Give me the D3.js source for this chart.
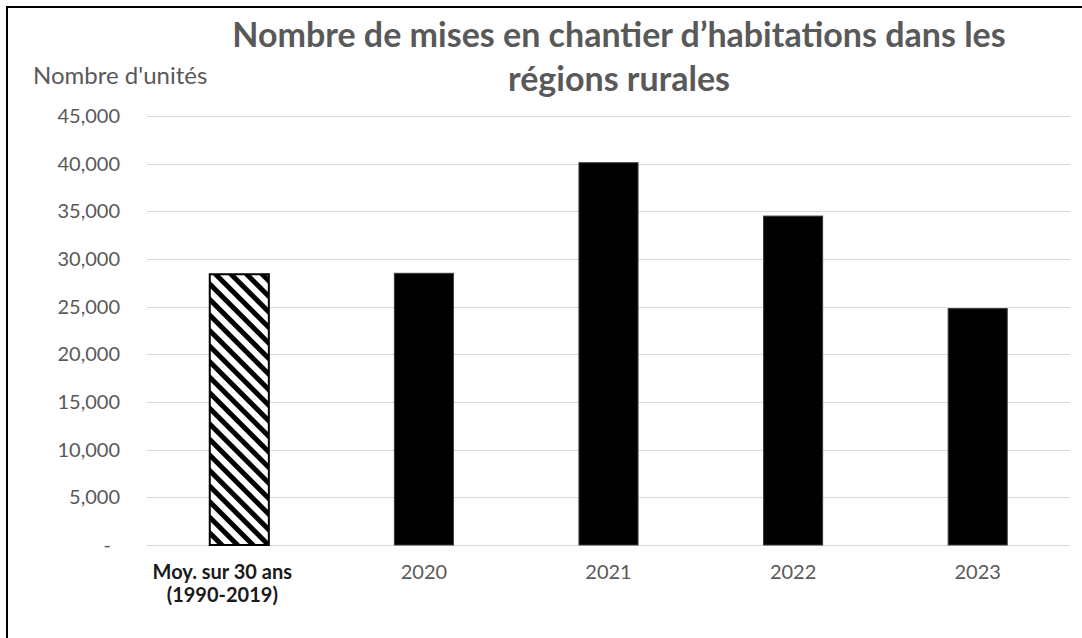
<!DOCTYPE html>
<html>
<head>
<meta charset="utf-8">
<script src="https://cdn.jsdelivr.net/npm/d3@7"></script>
<style>
  html, body { margin: 0; padding: 0; background: #fff; }
  svg { display: block; }
  text { font-family: Lato, "Open Sans", sans-serif; }
</style>
</head>
<body>
<svg id="chart" width="1082" height="638"></svg>
<script>
// Housing starts in rural regions
const categories = ["avg", "2020", "2021", "2022", "2023"];
const categoryLabels = [["Moy. sur 30 ans", "(1990-2019)"], ["2020"], ["2021"], ["2022"], ["2023"]];
const values = [28400, 28500, 40100, 34500, 24800];
const yTicks = [0, 5000, 10000, 15000, 20000, 25000, 30000, 35000, 40000, 45000];
const titleLines = ["Nombre de mises en chantier d\u2019habitations dans les", "régions rurales"];
const yAxisTitle = "Nombre d'unités";

const svg = d3.select("#chart");
const W = 1082, H = 638;
const plot = { left: 147, right: 1070, top: 116, bottom: 545 };

svg.append("rect").attr("width", W).attr("height", H).attr("fill", "#fff");

// diagonal hatch for the long-term average bar
const defs = svg.append("defs");
const pat = defs.append("pattern")
  .attr("id", "hatch")
  .attr("patternUnits", "userSpaceOnUse")
  .attr("width", 11)
  .attr("height", 11)
  .attr("patternTransform", "rotate(-45)");
pat.append("rect").attr("width", 11).attr("height", 11).attr("fill", "#fff");
pat.append("rect").attr("x", 0).attr("y", 0).attr("width", 5).attr("height", 11).attr("fill", "#000");

const x = d3.scaleBand()
  .domain(categories)
  .range([plot.left, plot.right])
  .paddingInner(0.68)
  .paddingOuter(0.34);

const y = d3.scaleLinear()
  .domain([0, 45000])
  .range([plot.bottom, plot.top]);

// gridlines
svg.append("g")
  .selectAll("line")
  .data(yTicks)
  .join("line")
  .attr("x1", plot.left)
  .attr("x2", plot.right)
  .attr("y1", d => Math.round(y(d)) + 0.5)
  .attr("y2", d => Math.round(y(d)) + 0.5)
  .attr("stroke", "#d9d9d9")
  .attr("stroke-width", 1.2);

// y tick labels
const fmt = d3.format(",");
svg.append("g")
  .selectAll("text")
  .data(yTicks)
  .join("text")
  .attr("x", d => d === 0 ? 111 : 120)
  .attr("y", d => y(d))
  .attr("dy", "0.35em")
  .attr("text-anchor", "end")
  .attr("font-size", 20)
  .attr("fill", "#595959")
  .text(d => d === 0 ? "-" : fmt(d));

// bars
svg.append("g")
  .selectAll("rect")
  .data(categories)
  .join("rect")
  .attr("x", d => x(d))
  .attr("y", (d, i) => y(values[i]))
  .attr("width", x.bandwidth())
  .attr("height", (d, i) => y(0) - y(values[i]))
  .attr("fill", (d, i) => i === 0 ? "url(#hatch)" : "#000")
  .attr("stroke", (d, i) => i === 0 ? "#000" : "#3a3a3a")
  .attr("stroke-width", (d, i) => i === 0 ? 2 : 1);

// category labels (the first one spans two lines)
const xg = svg.append("g");
categories.forEach((c, i) => {
  const cx = x(c) + x.bandwidth() / 2 + (i === 0 ? -17 : 0);
  categoryLabels[i].forEach((line, k) => {
    xg.append("text")
      .attr("x", cx)
      .attr("y", 579 + k * 23)
      .attr("text-anchor", "middle")
      .attr("font-size", 20)
      .attr("font-weight", i === 0 ? 700 : 400)
      .attr("fill", i === 0 ? "#1a1a1a" : "#595959")
      .text(line);
  });
});

// title
svg.append("g")
  .selectAll("text")
  .data(titleLines)
  .join("text")
  .attr("x", 619)
  .attr("y", (d, i) => 47 + i * 44)
  .attr("text-anchor", "middle")
  .attr("font-size", 34)
  .attr("font-weight", 700)
  .attr("fill", "#595959")
  .text(d => d);

// axis title
svg.append("text")
  .attr("x", 33)
  .attr("y", 84)
  .attr("font-size", 24)
  .attr("fill", "#595959")
  .text(yAxisTitle);

// chart frame
svg.append("rect")
  .attr("x", 7)
  .attr("y", 7)
  .attr("width", 1200)
  .attr("height", 800)
  .attr("fill", "none")
  .attr("stroke", "#000")
  .attr("stroke-width", 2);
</script>
</body>
</html>
